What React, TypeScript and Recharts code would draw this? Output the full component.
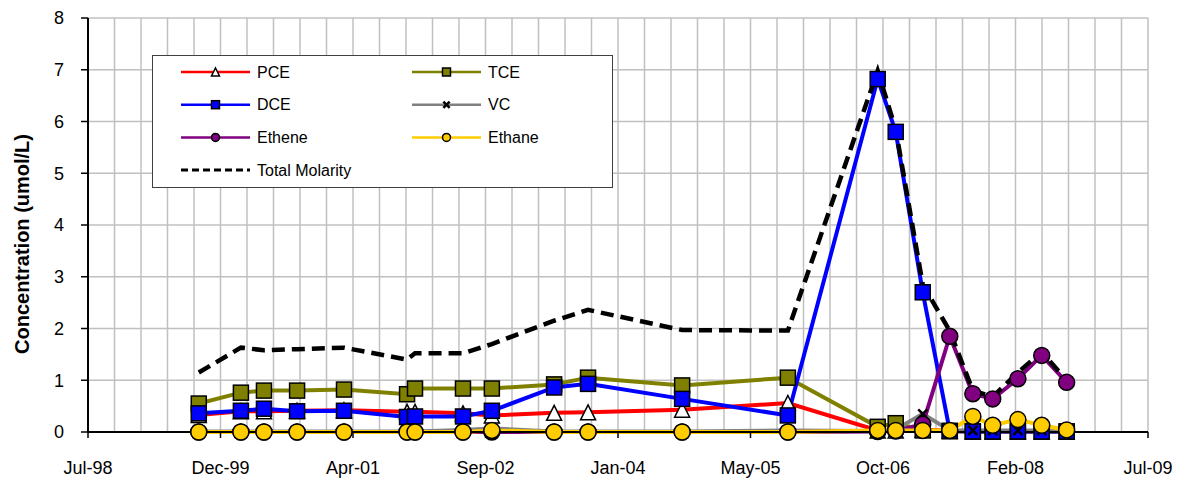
import React from 'react';
import {
  LineChart,
  Line,
  XAxis,
  YAxis,
  CartesianGrid,
  Legend,
  ReferenceLine,
} from 'recharts';

// sampling dates
const sampleDates = [
  '1999-09-15', '2000-02-21', '2000-05-18', '2000-09-20', '2001-03-16', '2001-11-09',
  '2001-12-09', '2002-06-08', '2002-09-25', '2003-05-18', '2003-09-23', '2004-09-12',
  '2005-10-16', '2006-09-20', '2006-11-27', '2007-03-09', '2007-06-19', '2007-09-14',
  '2007-11-28', '2008-03-02', '2008-05-31', '2008-09-02',
];

const pce = [0.33, 0.4, 0.4, 0.41, 0.42, 0.39, 0.39, 0.36, 0.32, 0.37, 0.38, 0.43, 0.56, 0.03, 0.03, 0.05, 0.02, 0.01, 0.01, 0.01, 0.01, 0.01];
const tce = [0.55, 0.76, 0.8, 0.8, 0.82, 0.73, 0.84, 0.84, 0.84, 0.92, 1.05, 0.9, 1.05, 0.1, 0.17, 0.03, 0.02, 0.01, 0.01, 0.01, 0.01, 0.01];
const dce = [0.36, 0.41, 0.45, 0.4, 0.41, 0.29, 0.3, 0.3, 0.41, 0.86, 0.93, 0.64, 0.32, 6.82, 5.8, 2.7, 0.02, 0.01, 0.01, 0.01, 0.01, 0.01];
const vc = [0.01, 0.01, 0.01, 0.01, 0.01, 0.01, 0.01, 0.04, 0.07, 0.01, 0.01, 0.01, 0.03, 0.02, 0.05, 0.35, 0.03, 0.03, 0.03, 0.03, 0.03, 0.03];
const ethene = [0, 0, 0, 0, 0, 0, 0, 0, 0, 0, 0, 0, 0, 0.01, 0.02, 0.15, 1.85, 0.74, 0.64, 1.03, 1.48, 0.96];
const ethane = [0, 0, 0, 0, 0, 0, 0, 0, 0.03, 0, 0, 0, 0, 0.03, 0.03, 0.03, 0.03, 0.3, 0.13, 0.24, 0.13, 0.04];
const totalMolarity = [1.15, 1.63, 1.58, 1.6, 1.63, 1.4, 1.52, 1.52, 1.7, 2.15, 2.36, 1.97, 1.96, 6.98, 5.85, 2.85, 1.95, 0.8, 0.68, 1.15, 1.55, 1.0];

// axis in Excel date serials
const xMin = 36000;
const xMax = 40000;
const majorStep = 500;
const minorStep = 100;
const yTicks = [0, 1, 2, 3, 4, 5, 6, 7, 8];

const FONT = "'Liberation Sans', Arial, sans-serif";
const MONTHS = ['Jan', 'Feb', 'Mar', 'Apr', 'May', 'Jun', 'Jul', 'Aug', 'Sep', 'Oct', 'Nov', 'Dec'];

const toSerial = (iso: string) => Math.round(Date.parse(iso + 'T00:00:00Z') / 86400000) + 25569;

const fmtSerial = (s: number) => {
  const d = new Date((s - 25569) * 86400000);
  return `${MONTHS[d.getUTCMonth()]}-${String(d.getUTCFullYear()).slice(2)}`;
};

const majorTicks: number[] = [];
for (let v = xMin; v <= xMax; v += majorStep) majorTicks.push(v);
const minorTicks: number[] = [];
for (let v = xMin + minorStep; v <= xMax; v += minorStep) minorTicks.push(v);

const data = sampleDates.map((d, i) => ({
  t: toSerial(d),
  PCE: pce[i],
  TCE: tce[i],
  DCE: dce[i],
  VC: vc[i],
  Ethene: ethene[i],
  Ethane: ethane[i],
  Total: totalMolarity[i],
}));

type Shape = 'triangle' | 'square' | 'circle' | 'x' | 'none';

const series: { key: string; name: string; color: string; shape: Shape; fill: string; dash?: string }[] = [
  { key: 'PCE', name: 'PCE', color: '#FF0000', shape: 'triangle', fill: '#FFFFFF' },
  { key: 'TCE', name: 'TCE', color: '#808000', shape: 'square', fill: '#808000' },
  { key: 'DCE', name: 'DCE', color: '#0000FF', shape: 'square', fill: '#0000FF' },
  { key: 'VC', name: 'VC', color: '#808080', shape: 'x', fill: '#000000' },
  { key: 'Ethene', name: 'Ethene', color: '#800080', shape: 'circle', fill: '#800080' },
  { key: 'Ethane', name: 'Ethane', color: '#FFCC00', shape: 'circle', fill: '#FFCC00' },
  { key: 'Total', name: 'Total Molarity', color: '#000000', shape: 'none', fill: 'none', dash: '13 7' },
];

const Marker = ({ shape, cx, cy, size, fill }: { shape: Shape; cx: number; cy: number; size: number; fill: string }) => {
  const h = size / 2;
  if (shape === 'square') {
    return <rect x={cx - h} y={cy - h} width={size} height={size} fill={fill} stroke="#000" strokeWidth={1.5} />;
  }
  if (shape === 'circle') {
    return <circle cx={cx} cy={cy} r={h} fill={fill} stroke="#000" strokeWidth={1.5} />;
  }
  if (shape === 'triangle') {
    return (
      <polygon
        points={`${cx},${cy - h} ${cx + h},${cy + h} ${cx - h},${cy + h}`}
        fill={fill}
        stroke="#000"
        strokeWidth={1.5}
      />
    );
  }
  if (shape === 'x') {
    const k = h * 0.7;
    return (
      <g stroke="#000" strokeWidth={2.5}>
        <line x1={cx - k} y1={cy - k} x2={cx + k} y2={cy + k} />
        <line x1={cx - k} y1={cy + k} x2={cx + k} y2={cy - k} />
      </g>
    );
  }
  return null;
};

const LegendBox = () => {
  const rows = [
    [series[0], series[1]],
    [series[2], series[3]],
    [series[4], series[5]],
    [series[6]],
  ];
  return (
    <svg width={461} height={133} style={{ display: 'block' }}>
      <rect x={0.5} y={0.5} width={460} height={132} fill="#fff" stroke="#404040" strokeWidth={1} />
      {rows.map((row, r) =>
        row.map((s, c) => {
          const y = 17 + r * 32.7;
          const x0 = c === 0 ? 29 : 260;
          return (
            <g key={s.key}>
              <line
                x1={x0}
                x2={x0 + 69}
                y1={y}
                y2={y}
                stroke={s.color}
                strokeWidth={s.dash ? 3 : 2.5}
                strokeDasharray={s.dash ? '7 4' : undefined}
              />
              <Marker shape={s.shape} cx={x0 + 34.5} cy={y} size={s.shape === 'x' ? 9 : 8} fill={s.fill} />
              <text x={x0 + 76} y={y} dominantBaseline="central" fontFamily={FONT} fontSize={16} fill="#000">
                {s.name}
              </text>
            </g>
          );
        })
      )}
    </svg>
  );
};

export default function App() {
  return (
    <div style={{ position: 'absolute', left: 0, top: 0, background: '#fff' }}>
      <LineChart
        width={1185}
        height={483}
        data={data}
        margin={{ top: 18, right: 37, bottom: 11, left: 28 }}
        style={{ fontFamily: FONT }}
      >
        <CartesianGrid vertical={false} stroke="#c0c0c0" strokeWidth={1.5} />
        {minorTicks.map((v) => (
          <ReferenceLine key={v} x={v} stroke="#c0c0c0" strokeWidth={1.5} />
        ))}
        <XAxis
          type="number"
          dataKey="t"
          domain={[xMin, xMax]}
          ticks={majorTicks}
          allowDataOverflow
          tickFormatter={fmtSerial}
          height={40}
          tickSize={6}
          tickMargin={23}
          axisLine={{ stroke: '#000', strokeWidth: 2 }}
          tickLine={{ stroke: '#000', strokeWidth: 1.5 }}
          tick={{ fill: '#000', fontSize: 18, fontFamily: FONT }}
        />
        <YAxis
          type="number"
          domain={[0, 8]}
          ticks={yTicks}
          width={60}
          tickSize={7}
          tickMargin={17}
          axisLine={{ stroke: '#000', strokeWidth: 2 }}
          tickLine={{ stroke: '#000', strokeWidth: 1.5 }}
          tick={{ fill: '#000', fontSize: 18, fontFamily: FONT }}
          label={{
            content: () => (
              <text
                x={22}
                y={244}
                transform="rotate(-90 22 244)"
                textAnchor="middle"
                dominantBaseline="central"
                fontFamily={FONT}
                fontSize={20}
                fontWeight="bold"
                fill="#000"
              >
                Concentration (umol/L)
              </text>
            ),
          }}
        />
        <Legend
          layout="horizontal"
          verticalAlign="middle"
          align="center"
          wrapperStyle={{ left: 152, top: 55, width: 461, height: 133 }}
          content={() => <LegendBox />}
        />
        {series.map((s) => (
          <Line
            key={s.key}
            type="linear"
            dataKey={s.key}
            name={s.name}
            stroke={s.color}
            strokeWidth={s.dash ? 4.5 : 4}
            strokeDasharray={s.dash}
            isAnimationActive={false}
            dot={
              s.shape === 'none'
                ? false
                : (p: any) => (
                    <Marker
                      key={`${s.key}-${p.index}`}
                      shape={s.shape}
                      cx={p.cx}
                      cy={p.cy}
                      size={s.shape === 'x' ? 13 : s.shape === 'circle' ? 16 : 15}
                      fill={s.fill}
                    />
                  )
            }
            activeDot={false}
          />
        ))}
      </LineChart>
    </div>
  );
}
